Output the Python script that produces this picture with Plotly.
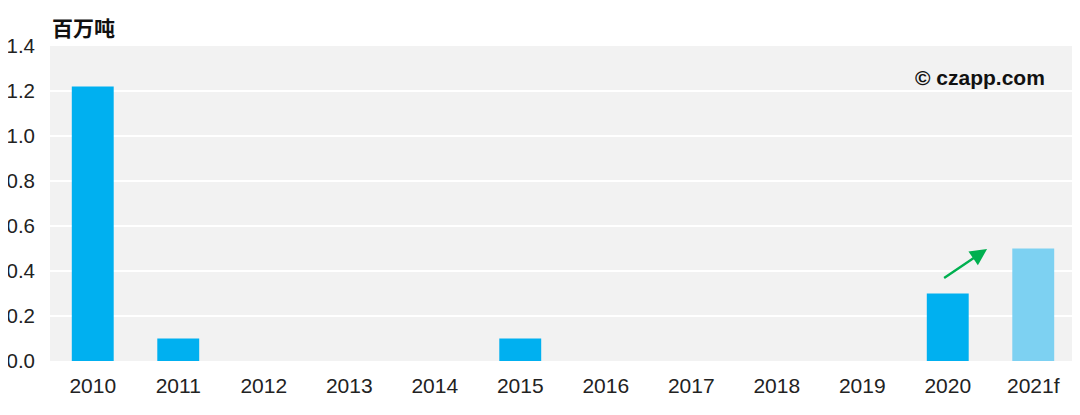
import plotly.graph_objects as go

categories = ["2010", "2011", "2012", "2013", "2014", "2015", "2016", "2017", "2018", "2019", "2020", "2021f"]
values = [1.22, 0.1, 0, 0, 0, 0.1, 0, 0, 0, 0, 0.3, 0.5]
colors = ["#00B0F0"] * 11 + ["#7DD1F2"]

fig = go.Figure(go.Bar(x=categories, y=values, marker=dict(color=colors, line=dict(width=0)), width=0.49))

fig.update_layout(
    width=1072, height=400,
    margin=dict(l=42, r=4, t=38, b=47),
    paper_bgcolor="white", plot_bgcolor="#F2F2F2",
    font=dict(family="Liberation Sans, Arial, sans-serif", size=20, color="#222222"),
    showlegend=False,
    xaxis=dict(type="category", showgrid=False, ticks="", tickfont=dict(size=21), automargin=False,
               ticklabelstandoff=10),
    yaxis=dict(range=[0, 1.4], dtick=0.2, tickformat=".1f", gridcolor="white", gridwidth=1.5,
               zeroline=False, ticks="", tickfont=dict(size=20.5), ticklabelstandoff=14, automargin=False),
    annotations=[
        dict(text="<b>百万吨</b>", xref="paper", yref="paper", x=0, y=1.06, xanchor="left", yanchor="middle",
             showarrow=False, font=dict(family="Noto Sans CJK SC", size=21, color="#111111")),
        dict(text="<b>© czapp.com</b>", xref="paper", yref="paper", x=0.972, y=0.9, xanchor="right", yanchor="middle",
             showarrow=False, font=dict(size=21, color="#111111")),
        dict(x=10.46, y=0.498, ax=9.94, ay=0.364, xref="x", yref="y", axref="x", ayref="y",
             text="", showarrow=True, arrowhead=2, arrowsize=1.4, arrowwidth=2.4, arrowcolor="#00B050"),
    ],
)

fig.write_html("out.html")
